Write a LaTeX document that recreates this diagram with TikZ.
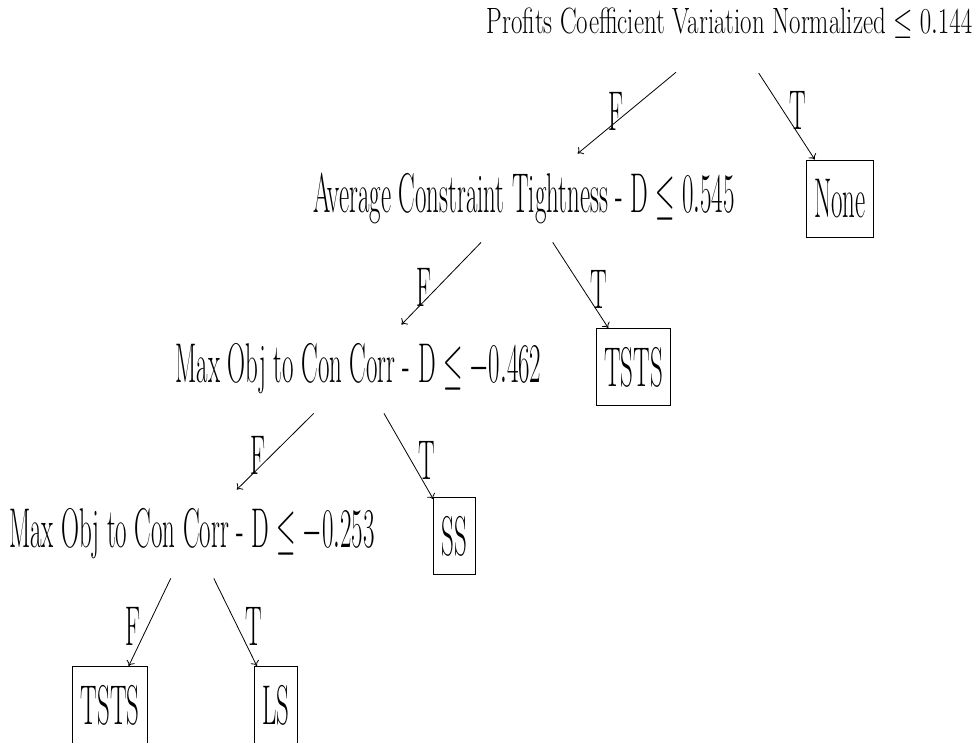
\RequirePackage{fix-cm}
\documentclass[tikz,border=0pt]{standalone}
\usepackage{amsmath}
\usepackage{graphicx}
\usetikzlibrary{arrows.meta}

\newcommand{\nar}[2][0.445]{\scalebox{#1}[1]{#2}}

\begin{document}
\begin{tikzpicture}[x=1pt, y=1pt, line width=0.8pt,
		font=\fontsize{56}{60}\selectfont,
		split/.style={inner sep=0pt, minimum height=88pt},
		leaf/.style={draw, line width=0.9pt, inner xsep=8pt, inner ysep=0pt, minimum height=77pt},
		edgelbl/.style={inner sep=0pt, yshift=-4pt},
		>={To[length=5pt,width=9pt]}]
			\useasboundingbox (0,0) rectangle (976,-742);
			\clip (0,0) rectangle (976,-742);
			% split nodes
			\node[inner sep=0pt, font=\fontsize{36.6}{40}\selectfont, text height=25.6pt, text depth=15pt] (profits) at (729.5,-28) {\nar[0.68]{Profits Coefficient Variation Normalized $\leq 0.144$}};
			\node[split] (tight) at (524,-198) {\nar{Average Constraint Tightness - D $\leq 0.545$}};
			\node[split] (corrA) at (358.5,-369) {\nar{Max Obj to Con Corr - D $\leq -0.462$}};
			\node[split] (corrB) at (192,-534) {\nar{Max Obj to Con Corr - D $\leq -0.253$}};
			% leaves
			\node[leaf] (none) at (840,-198.5) {\nar{None}};
			\node[leaf] (tstsA) at (633.5,-367) {\nar{TSTS}};
			\node[leaf] (ss) at (454.5,-536) {\nar{SS}};
			\node[leaf] (tstsB) at (110,-705) {\nar{TSTS}};
			\node[leaf] (ls) at (276,-705) {\nar{LS}};
			% edges
			\draw[->, shorten <=37pt] (profits) -- (tight) node[edgelbl, pos=0.56, xshift=-17pt] {\nar{F}};
			\draw[->, shorten <=29pt] (profits) -- (none) node[edgelbl, pos=0.52, xshift=18pt] {\nar{T}};
			\draw[->] (tight) -- (corrA) node[edgelbl, midway, xshift=-17pt] {\nar{F}};
			\draw[->] (tight) -- (tstsA) node[edgelbl, midway, xshift=18pt] {\nar{T}};
			\draw[->] (corrA) -- (corrB) node[edgelbl, midway, xshift=-17pt] {\nar{F}};
			\draw[->] (corrA) -- (ss) node[edgelbl, midway, xshift=18pt] {\nar{T}};
			\draw[->] (corrB) -- (tstsB) node[edgelbl, midway, xshift=-17pt] {\nar{F}};
			\draw[->] (corrB) -- (ls) node[edgelbl, midway, xshift=18pt] {\nar{T}};
		\end{tikzpicture}
\end{document}
